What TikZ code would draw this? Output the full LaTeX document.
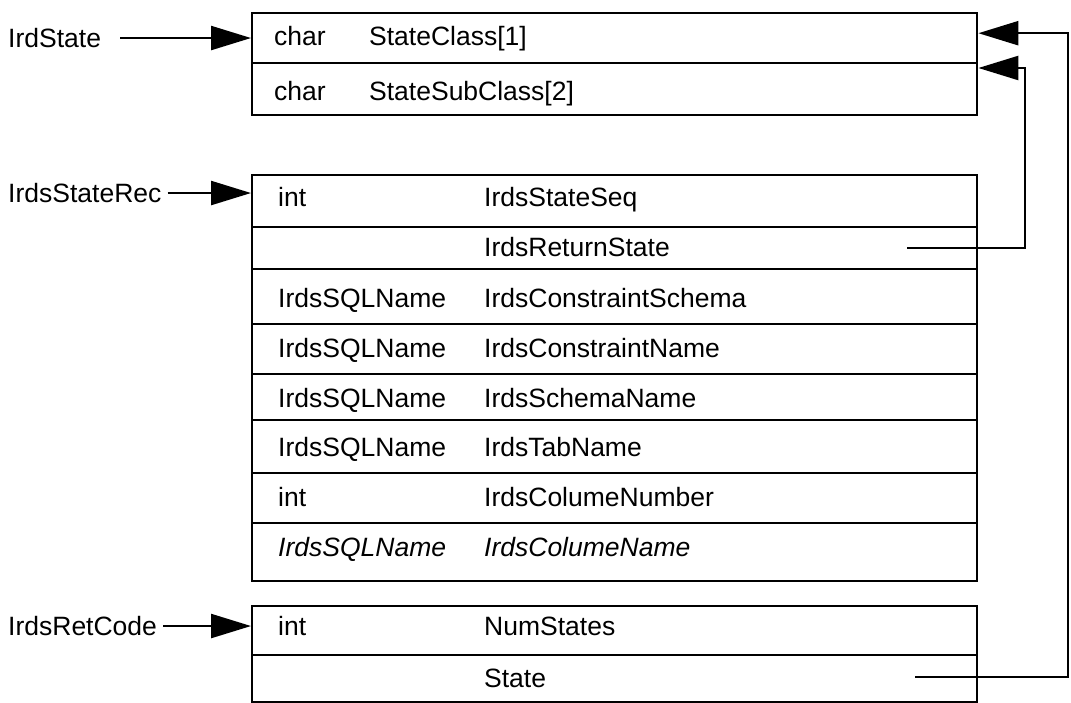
\documentclass[tikz,border=0pt]{standalone}
\usepackage{fontspec}
\setmainfont{Liberation Sans}
\usetikzlibrary{arrows.meta}
\begin{document}
\begin{tikzpicture}[x=1pt,y=-1pt,line width=2.4pt,
  cell/.style={draw,rectangle,inner sep=0pt,minimum width=725pt,anchor=north west},
  txt/.style={anchor=base west,inner sep=0pt,font=\fontsize{26.5}{30}\selectfont},
  itxt/.style={txt,font=\fontsize{26.5}{30}\selectfont\itshape},
  ptr/.style={-{Triangle[length=40pt,width=24pt]},line width=2.4pt}]
\useasboundingbox (0,0) rectangle (1071,703);

% IrdState record
\node[cell,minimum height=50pt] (a1) at (251,12) {};
\node[cell,minimum height=52pt] (a2) at (251,62) {};
\node[txt] (a1t) at (273,46) {char};
\node[txt] (a1n) at (368,46) {StateClass[1]};
\node[txt] (a2t) at (273,100.5) {char};
\node[txt] (a2n) at (368,100.5) {StateSubClass[2]};

% IrdsStateRec record
\node[cell,minimum height=52pt] (b1) at (251,174) {};
\node[cell,minimum height=42pt] (b2) at (251,226) {};
\node[cell,minimum height=55pt] (b3) at (251,268) {};
\node[cell,minimum height=50pt] (b4) at (251,323) {};
\node[cell,minimum height=46pt] (b5) at (251,373) {};
\node[cell,minimum height=53pt] (b6) at (251,419) {};
\node[cell,minimum height=50pt] (b7) at (251,472) {};
\node[cell,minimum height=58pt] (b8) at (251,522) {};
\node[txt] (b1t) at (277,206.5) {int};
\node[txt] (b1n) at (483,206.5) {IrdsStateSeq};
\node[txt] (b2n) at (483,256.5) {IrdsReturnState};
\node[txt] (b3t) at (277,307.5) {IrdsSQLName};
\node[txt] (b3n) at (483,307.5) {IrdsConstraintSchema};
\node[txt] (b4t) at (277,357.5) {IrdsSQLName};
\node[txt] (b4n) at (483,357.5) {IrdsConstraintName};
\node[txt] (b5t) at (277,407.5) {IrdsSQLName};
\node[txt] (b5n) at (483,407.5) {IrdsSchemaName};
\node[txt] (b6t) at (277,456.5) {IrdsSQLName};
\node[txt] (b6n) at (483,456.5) {IrdsTabName};
\node[txt] (b7t) at (277,506.5) {int};
\node[txt] (b7n) at (483,506.5) {IrdsColumeNumber};
\node[itxt] (b8t) at (277,556.5) {IrdsSQLName};
\node[itxt] (b8n) at (483,556.5) {IrdsColumeName};

% IrdsRetCode record
\node[cell,minimum height=49pt] (c1) at (251,605) {};
\node[cell,minimum height=47pt] (c2) at (251,654) {};
\node[txt] (c1t) at (277,635.5) {int};
\node[txt] (c1n) at (483,635.5) {NumStates};
\node[txt] (c2n) at (483,687.5) {State};

% names pointing at the records
\node[txt] (la) at (7,47.5) {IrdState};
\node[txt] (lb) at (7,202.5) {IrdsStateRec};
\node[txt] (lc) at (7,635.5) {IrdsRetCode};
\draw[ptr] ([xshift=18pt]la.east) -- (la.east -| a1.west);
\draw[ptr] ([xshift=5pt]lb.east) -- (lb.east -| b1.west);
\draw[ptr] ([xshift=5pt]lc.east) -- (lc.east -| c1.west);

% pointer fields looping back to IrdState
\coordinate (rs) at (907,248);
\coordinate (st) at (915,677);
\draw[ptr] (rs) -- ++(118,0) |- ([yshift=-6pt]a2.north east);
\draw[ptr] (st) -- ++(153,0) |- ([yshift=5pt]a1.east);
\end{tikzpicture}
\end{document}
